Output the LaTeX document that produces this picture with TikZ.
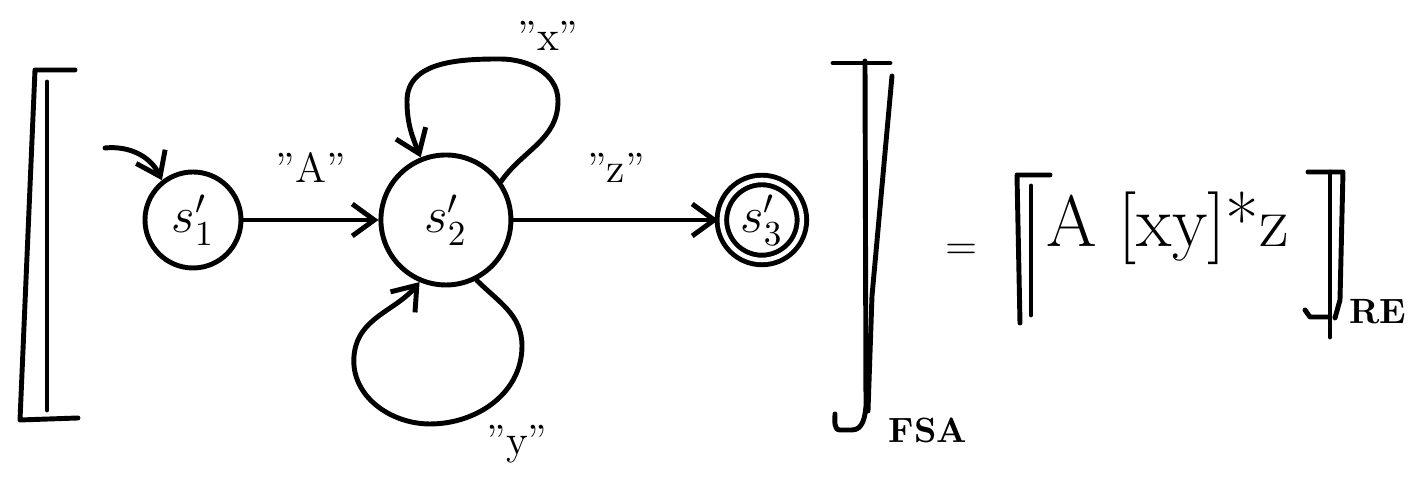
\documentclass[tikz,border=0pt]{standalone}
\usepackage{fontspec}
\usepackage{tikz}
\usetikzlibrary{automata,positioning,arrows.meta,calc}
\tikzset{
  >={Straight Barb[length=2.2mm,width=3.2mm]},
  fa/.style={->,line width=1.4pt,line cap=round},
  every state/.style={draw=black,line width=1.4pt,minimum size=9.6mm,
    inner sep=1pt,font=\Large},
  st/.style={state},
  stbig/.style={state,minimum size=13mm},
  stacc/.style={state,accepting by double,minimum size=8mm,
    double distance=1.3pt},
  tredge/.style={font=\large,inner sep=1.5pt},
  brk/.style={line width=1.4pt,line cap=round,line join=round},
  sublbl/.style={font=\normalsize\bfseries,inner sep=1pt},
  relbl/.style={font=\huge,inner sep=1pt},
}
\begin{document}
\begin{tikzpicture}
  \useasboundingbox (0,0) rectangle (14.16,4.86);
  % automaton
  \node[st] (s1) at (1.93,2.66) {$s_1'$};
  \node[stbig,right=13.5mm of s1] (s2) {$s_2'$};
  \node[stacc,right=20.5mm of s2] (s3) {$s_3'$};
  \coordinate (init) at (1.05,3.38);
  \draw[fa] (init) to[bend left=35] (s1.128);
  \draw[fa] (s1) -- node[tredge,above=3mm] {"A"} (s2);
  \draw[fa] (s2) -- node[tredge,above=3mm] {"z"} (s3);
  \draw[fa] (s2.35) to[out=55,in=-90] (5.58,3.85)
    to[out=90,in=0] (5.0,4.27)
    to[out=180,in=90] (4.07,3.85) to[out=-90,in=112] (s2.112);
  \draw[fa] (s2.-63) to[out=-45,in=90] (5.22,1.4)
    to[out=-90,in=0] (4.3,0.62)
    to[out=180,in=-95] (3.54,1.3) to[out=85,in=-130] (s2.-113);
  \node[tredge] (lx) at (5.48,4.5) {"x"};
  \node[tredge] (ly) at (5.17,0.42) {"y"};
  % FSA brackets
  \draw[brk] (0.75,4.16) -- (0.35,4.16) -- (0.20,0.66) -- (0.78,0.68);
  \draw[brk] (0.47,4.04) -- (0.47,0.76);
  \draw[brk] (8.33,4.23) -- (8.9,4.23);
  \draw[brk] (8.65,4.25) -- (8.66,0.8) to[out=-95,in=0] (8.52,0.56)
    -- (8.4,0.56) to[out=180,in=-90] (8.35,0.72);
  \draw[brk] (8.92,4.1) -- (8.72,1.9) -- (8.68,0.75);
  \node[sublbl] (fsa) at (9.28,0.56) {FSA};
  % regular expression
  \node[tredge] (eq) at (9.62,2.34) {=};
  \node[relbl,anchor=west] (re) at (10.42,2.58) {A [xy]*z};
  \draw[brk] (10.5,3.11) -- (10.17,3.11) -- (10.2,1.63);
  \draw[brk] (10.31,3.0) -- (10.31,1.71);
  \draw[brk] (13.08,3.14) -- (13.43,3.14) -- (13.4,1.86) -- (13.35,1.68);
  \draw[brk] (13.3,3.14) -- (13.3,1.49);
  \draw[brk] (13.3,1.69) -- (13.1,1.69) -- (13.05,1.76);
  \node[sublbl] (resub) at (13.78,1.74) {RE};
\end{tikzpicture}
\end{document}
